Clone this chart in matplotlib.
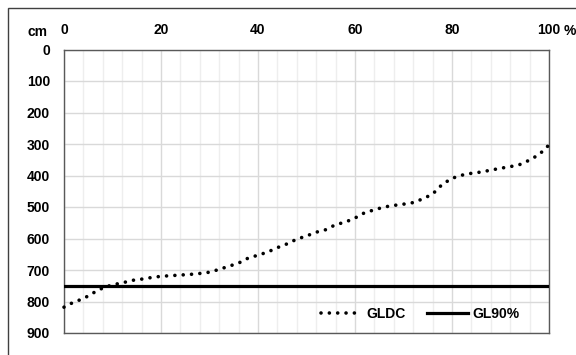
import matplotlib
matplotlib.use("Agg")
import matplotlib.pyplot as plt
from matplotlib.patches import Rectangle
from matplotlib.ticker import MultipleLocator

plt.rcParams['font.family'] = ['Liberation Sans', 'DejaVu Sans']

# exceedance percentage and groundwater depth (cm)
pct = [0, 2, 4, 6, 8, 10, 12, 14, 16, 18, 20, 22, 24, 26, 28, 30, 32, 34, 36, 38,
       40, 42, 44, 46, 48, 50, 52, 54, 56, 58, 60, 62, 64, 66, 68, 70, 72, 74, 76,
       78, 80, 82, 84, 86, 88, 90, 92, 94, 96, 98, 100]
gldc = [818, 802, 791, 773, 757, 747, 741, 733, 729, 724, 720, 718, 716, 714, 711,
        707, 698, 688, 678, 662, 653, 643, 629, 617, 602, 592, 580, 572, 556, 548,
        535, 518, 509, 500, 495, 491, 486, 474, 459, 428, 409, 399, 393, 389, 383,
        377, 372, 365, 351, 333, 303]
gl90 = 750
xticks = [0, 20, 40, 60, 80, 100]
yticks = [0, 100, 200, 300, 400, 500, 600, 700, 800, 900]

fs = 10
fig = plt.figure(figsize=(5.76, 3.55), dpi=100)
ax = fig.add_axes([64/576, 1-333/355, 485/576, 283.5/355])

# outer frame
fig.patches.append(Rectangle((8/576, -0.5), 2, 1.5 - 8/355, transform=fig.transFigure,
                             fill=False, edgecolor='#404040', linewidth=1))

ax.plot(pct, gldc, color='black', linewidth=2.6, linestyle=(0, (0.01, 2.3)),
        dash_capstyle='round', label='GLDC', zorder=3, clip_on=False)
ax.axhline(gl90, color='black', linewidth=2.3, label='GL90%', zorder=3)

ax.set_xlim(0, 100)
ax.set_ylim(900, 0)
ax.xaxis.tick_top()
ax.set_xticks(xticks)
ax.set_xticklabels([str(v) for v in xticks])
ax.xaxis.set_minor_locator(MultipleLocator(4))
ax.set_yticks(yticks)
ax.tick_params(axis='both', which='both', length=0, labelsize=fs)
ax.tick_params(axis='x', pad=9)
ax.tick_params(axis='y', pad=10)
for lab in ax.get_xticklabels() + ax.get_yticklabels():
    lab.set_fontweight('bold')

ax.grid(which='major', axis='both', color='#d9d9d9', linewidth=1)
ax.grid(which='minor', axis='x', color='#eeeeee', linewidth=1)
ax.set_axisbelow(True)
for s in ax.spines.values():
    s.set_color('#595959')
    s.set_linewidth(1)

ax.annotate('%', xy=(100, 1), xycoords=('data', 'axes fraction'),
            xytext=(10.5, 13), textcoords='offset points',
            ha='left', va='center', fontsize=fs, fontweight='bold')
fig.text(27/576, 1-31.5/355, 'cm', ha='left', va='center', fontsize=fs, fontweight='bold')

ax.legend(loc='lower right', bbox_to_anchor=(0.965, 0.0), ncol=2, frameon=False,
          prop={'weight': 'bold', 'size': fs}, handlelength=3.0, columnspacing=1.5,
          handletextpad=0.3)

fig.savefig('out.png', dpi=100)
